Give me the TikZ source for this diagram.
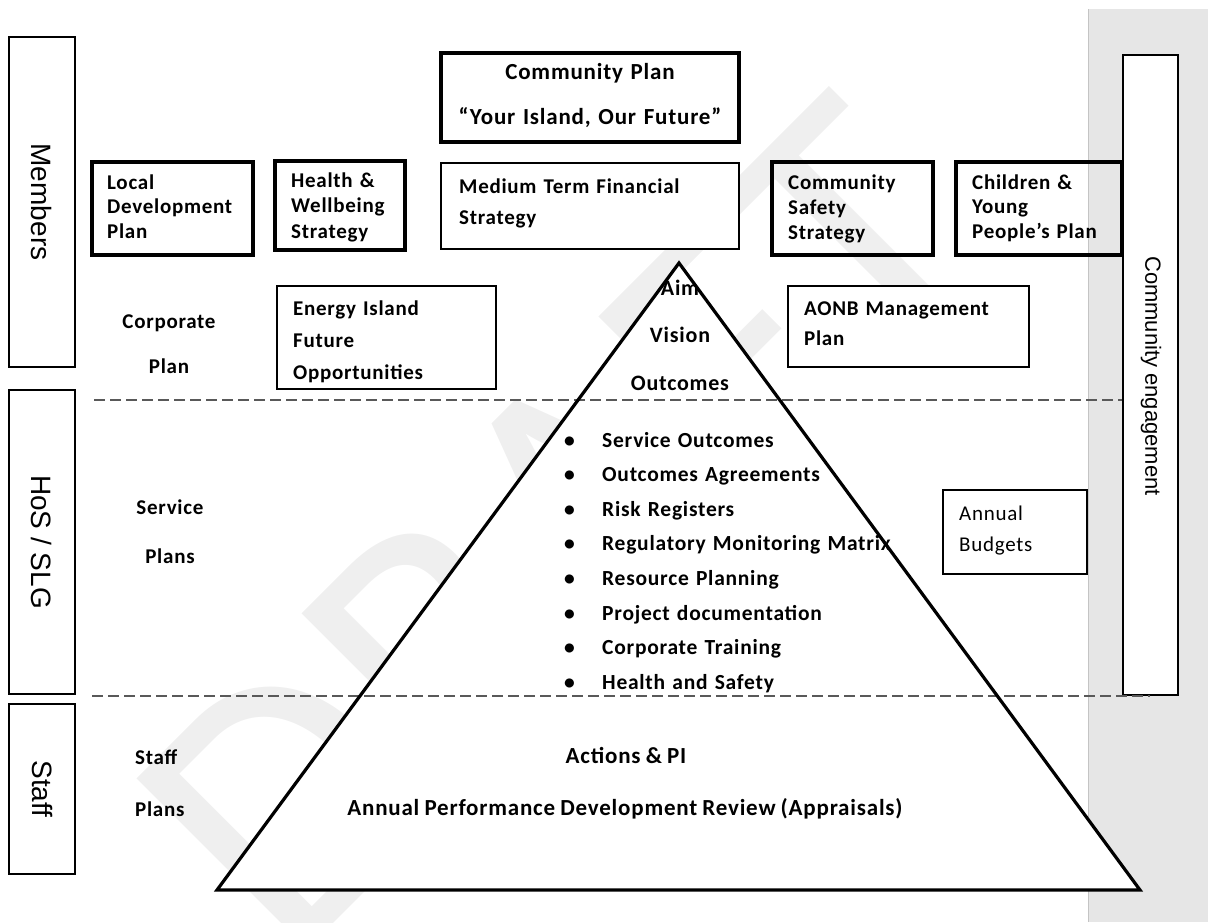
\documentclass[tikz,border=0pt]{standalone}
\usepackage{fontspec}
\setmainfont{Carlito}[LetterSpace=3.5,WordSpace=0.85]
\newfontfamily\arialf{Liberation Sans}
\newfontfamily\wmfont{Carlito}
\definecolor{bandgray}{HTML}{E6E6E6}
\definecolor{bandedge}{HTML}{C4C4C4}
\definecolor{wmgray}{HTML}{EFEFEF}
\definecolor{dashgray}{HTML}{595959}
\newcommand\bulmark{\makebox[38pt][l]{•}}
\hyphenpenalty=10000
\begin{document}
\begin{tikzpicture}[x=1pt,y=-1pt,
  thinbox/.style={draw=black, line width=1.6pt, fill=white, inner sep=0pt},
  thickbox/.style={draw=black, line width=3.2pt, fill=white, inner sep=0pt},
  openbox/.style={draw=black, line width=3.2pt, inner sep=0pt},
  lbl/.style={inner sep=0pt, align=left, anchor=base west},
  clbl/.style={inner sep=0pt, align=center, anchor=base},
  side/.style={inner sep=0pt, rotate=-90, font=\arialf\fontsize{28}{28}\selectfont},
  dashline/.style={draw=dashgray, line width=2pt, dash pattern=on 11pt off 5pt},
  wm/.style={inner sep=0pt, rotate=45, text=wmgray, font=\wmfont\fontsize{376}{376}\selectfont}
]
\useasboundingbox (0,0) rectangle (1208,922);
% grey band on the right
\fill[bandgray] (1088,9) rectangle (1208,922);
\draw[bandedge, line width=1pt] (1088,9) -- (1088,922);
% watermark
\begin{scope}
  \clip (0,0) rectangle (1208,922);
  \node[wm] (wmark) at (561,525) {DRAFT};
\end{scope}
% pyramid fill
\coordinate (apex) at (679,263);
\coordinate (bl) at (217,890);
\coordinate (br) at (1140,890);
\fill[white] (apex) -- (bl) -- (br) -- cycle;
% side boxes
\node[thinbox, minimum width=66pt, minimum height=330pt] (members) at (42,202) {};
\node[thinbox, minimum width=66pt, minimum height=304pt] (hos) at (42,542) {};
\node[thinbox, minimum width=66pt, minimum height=170pt] (staffbox) at (42,789) {};
\node[thinbox, minimum width=55pt, minimum height=640pt] (comm) at (1150.5,375) {};
% plan boxes
\node[thickbox, minimum width=298pt, minimum height=89pt] (cplan) at (590,97.5) {};
\node[thickbox, minimum width=161pt, minimum height=93pt] (ldp) at (172.5,208.5) {};
\node[thickbox, minimum width=130pt, minimum height=89pt] (hws) at (340,205.5) {};
\node[thinbox, minimum width=298pt, minimum height=86pt] (mtfs) at (590,206) {};
\node[openbox, minimum width=161pt, minimum height=93pt] (css) at (852.5,208.5) {};
\node[openbox, minimum width=166pt, minimum height=93pt] (cyp) at (1039,208.5) {};
\node[thinbox, minimum width=219pt, minimum height=103pt] (energy) at (386.5,337.5) {};
\node[thinbox, minimum width=241pt, minimum height=81pt] (aonb) at (908.5,326.5) {};
\node[thinbox, minimum width=144pt, minimum height=84pt] (budgets) at (1015,532) {};
% dashed separators
\coordinate (d1a) at (94,400);
\coordinate (d1b) at (1122,400);
\coordinate (d2a) at (92,696);
\coordinate (d2b) at (1150,696);
\draw[dashline] (d1a) -- (d1b);
\draw[dashline] (d2a) -- (d2b);
% side labels
\node[side] (memt) at (42,202) {Members};
\node[side] (host) at (42,542) {HoS / SLG};
\node[side] (stafft) at (42,789) {Staff};
\node[side, font=\arialf\fontsize{22}{22}\selectfont] (commt) at (1151,376) {Community engagement};
% box texts
\node[clbl, text width=285pt, font=\bfseries\fontsize{23}{45}\selectfont] (cplant) at (590,79.5) {Community Plan\\“Your Island, Our Future”};
\node[lbl, text width=140pt, font=\bfseries\fontsize{21}{24.5}\selectfont] (ldpt) at (107,189) {Local\\Development\\Plan};
\node[lbl, text width=110pt, font=\bfseries\fontsize{21}{25.5}\selectfont] (hwst) at (291,187) {Health \&\\Wellbeing\\Strategy};
\node[lbl, text width=272pt, font=\bfseries\fontsize{21}{31}\selectfont] (mtfst) at (459,193) {Medium Term Financial\\Strategy};
\node[lbl, text width=140pt, font=\bfseries\fontsize{21}{25}\selectfont] (csst) at (788,189) {Community\\Safety\\Strategy};
\node[lbl, text width=145pt, font=\bfseries\fontsize{21}{24.5}\selectfont] (cypt) at (972,189) {Children \&\\Young\\People’s Plan};
\node[clbl, text width=100pt, font=\bfseries\fontsize{21}{45}\selectfont] (corpt) at (169,328) {Corporate\\Plan};
\node[lbl, text width=195pt, font=\bfseries\fontsize{21}{32}\selectfont] (energyt) at (293,315) {Energy Island\\Future\\Opportunities};
\node[lbl, text width=218pt, font=\bfseries\fontsize{21}{30.5}\selectfont] (aonbt) at (804,315) {AONB Management\\Plan};
\node[clbl, text width=80pt, font=\bfseries\fontsize{21}{49}\selectfont] (servt) at (170,514) {Service\\Plans};
\node[lbl, text width=60pt, font=\bfseries\fontsize{21}{52}\selectfont] (staffpt) at (135,764) {Staff\\Plans};
\node[lbl, text width=120pt, font=\fontsize{21}{31}\selectfont] (budt) at (959,520) {Annual\\Budgets};
% pyramid texts
\node[clbl, text width=110pt, font=\bfseries\fontsize{22}{47.5}\selectfont] (pyrt) at (680,295) {Aim\\Vision\\Outcomes};
\node[lbl, text width=400pt, font=\bfseries\fontsize{21.5}{34.6}\selectfont] (bullets) at (564,447) {\bulmark Service Outcomes\\\bulmark Outcomes Agreements\\\bulmark Risk Registers\\\bulmark Regulatory Monitoring Matrix\\\bulmark Resource Planning\\\bulmark Project documentation\\\bulmark Corporate Training\\\bulmark Health and Safety};
\node[clbl, font=\bfseries\fontsize{23}{23}\selectfont] (actt) at (626,763.5) {Actions \& PI};
\node[clbl, font=\bfseries\fontsize{23}{23}\selectfont] (apdrt) at (625,815.5) {Annual Performance Development Review (Appraisals)};
% pyramid outline
\draw[line width=3.2pt, line join=miter] (apex) -- (bl) -- (br) -- cycle;
\end{tikzpicture}
\end{document}
